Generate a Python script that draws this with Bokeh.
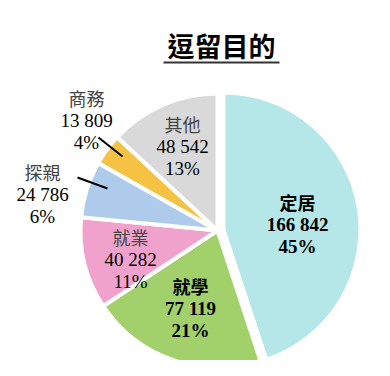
import math
from bokeh.plotting import figure
from bokeh.models import Range1d, ColumnDataSource
from bokeh.core.properties import value
from bokeh.embed import file_html
from bokeh.resources import INLINE

# ---- data ----
categories = ["定居", "就學", "就業", "探親", "商務", "其他"]
counts = [166842, 77119, 40282, 24786, 13809, 48542]
pct_labels = ["45%", "21%", "11%", "6%", "4%", "13%"]
colors = ["#b5e7e8", "#a2d06a", "#f0a2cc", "#aecbeb", "#f5c243", "#d9d9d9"]
title_text = "逗留目的"

# ---- layout (image pixel coords; y measured from top) ----
W, H = 374, 360
def Y(y):
    return 376 - y

cx, cy, R = 217, 230, 137
explode = [6, 0, 0, 0, 0, 0]
label_x = [297, 190, 130, 42, 86, 182]
label_y = [201, 285, 236, 171, 97, 123]
bold = [True, True, False, False, False, False]

p = figure(width=W, height=H, output_backend="svg", toolbar_location=None,
           x_range=Range1d(0, W), y_range=Range1d(376 - H, 376),
           min_border=0, outline_line_color=None)
p.axis.visible = False
p.grid.visible = False
p.background_fill_color = "white"
p.border_fill_color = "white"

total = sum(counts)
cum = 0
xs, ys, starts, ends = [], [], [], []
for v, e in zip(counts, explode):
    a0 = math.pi / 2 - 2 * math.pi * cum / total
    cum += v
    a1 = math.pi / 2 - 2 * math.pi * cum / total
    mid = (a0 + a1) / 2
    xs.append(cx + e * math.cos(mid))
    ys.append(Y(cy) + e * math.sin(mid))
    starts.append(a0)
    ends.append(a1)

src = ColumnDataSource(dict(x=xs, y=ys, start=starts, end=ends, color=colors))
p.wedge(x="x", y="y", radius=R, start_angle="start", end_angle="end",
        direction="clock", fill_color="color", line_color="white",
        line_width=4, source=src)

# leader lines for small slices
p.segment(x0=[98, 77], y0=[Y(137), Y(177)], x1=[122, 107], y1=[Y(156), Y(188)],
          line_color="black", line_width=2)

# labels
for i, cat in enumerate(categories):
    lx, ly = label_x[i], label_y[i]
    b = bold[i]
    p.text(x=[lx], y=[Y(ly)], text=[cat], text_align="center", text_baseline="middle",
           text_font=value("Noto Sans CJK TC"), text_font_size="18px",
           text_font_style="bold" if b else "normal",
           text_color="black" if b else "#444444")
    num = f"{counts[i]:,}".replace(",", " ")
    p.text(x=[lx, lx], y=[Y(ly + 23), Y(ly + 45)], text=[num, pct_labels[i]],
           text_align="center", text_baseline="middle",
           text_font=value("Liberation Serif"), text_font_size="19px",
           text_font_style="bold" if b else "normal", text_color="black")

# title
p.text(x=[221], y=[Y(45)], text=[title_text], text_align="center", text_baseline="middle",
       text_font=value("Noto Sans CJK TC"), text_font_size="27px",
       text_font_style="bold", text_color="black")
p.segment(x0=[163], y0=[Y(62)], x1=[279], y1=[Y(62)], line_color="#333333", line_width=2)

open("out.html", "w").write(file_html(p, INLINE))
